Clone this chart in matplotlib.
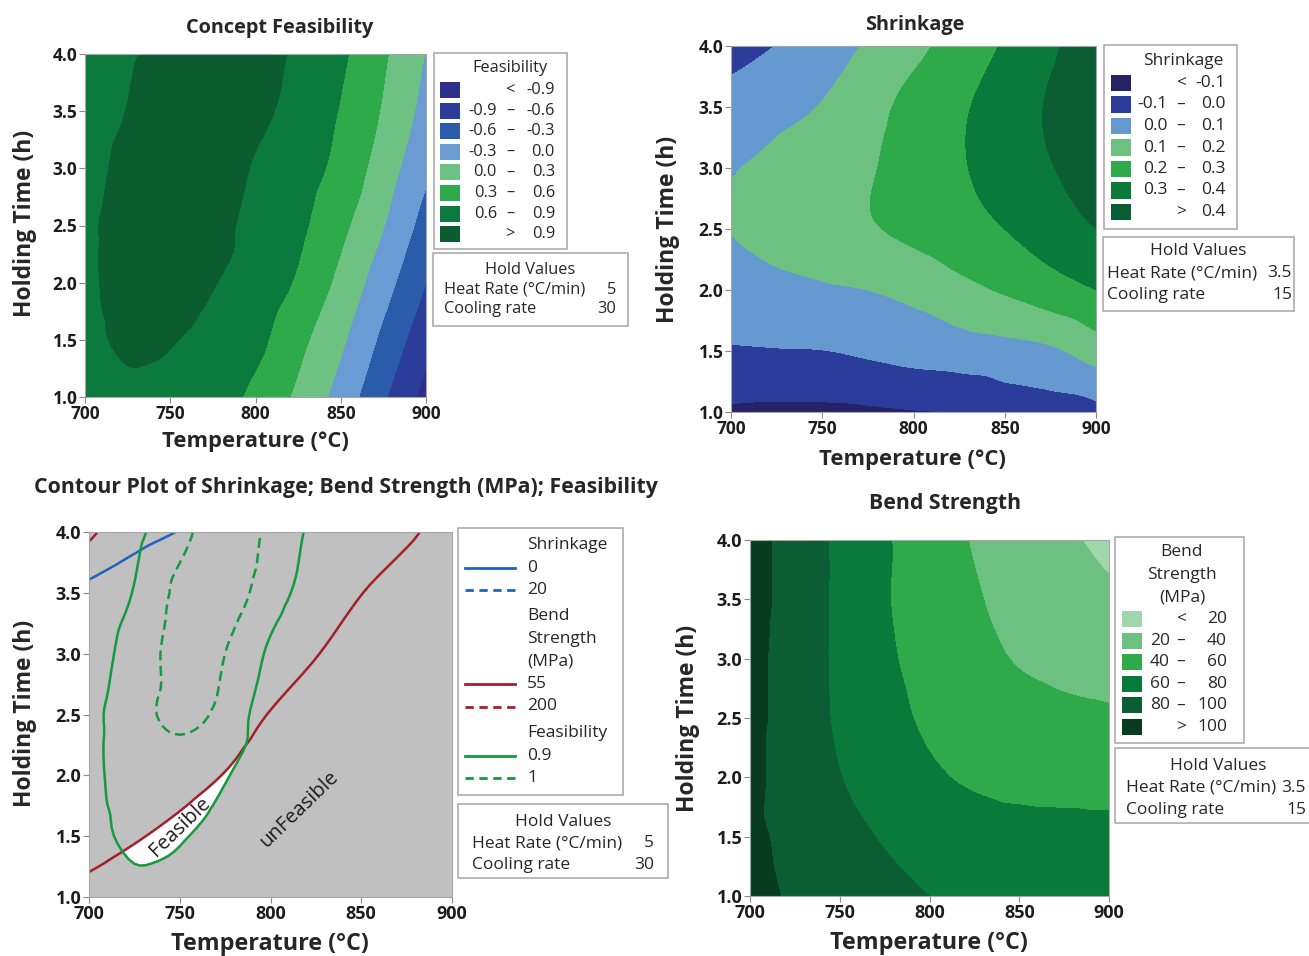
import numpy as np
import matplotlib
matplotlib.use("Agg")
import matplotlib.pyplot as plt
import matplotlib.tri as mtri
from matplotlib.patches import Rectangle
from matplotlib.lines import Line2D

plt.rcParams["font.family"] = ["Open Sans", "DejaVu Sans"]

W, H = 1309, 956

# ---- values ----
temperature = [700, 725, 750, 775, 800, 825, 850, 875, 900]     # degC, grid columns
holding_time = [4.0, 3.5, 3.0, 2.5, 2.0, 1.5, 1.0]               # h, grid rows (top -> bottom)

# concept feasibility, heat rate 5, cooling rate 30 (also used in the overlay)
feasibility = [
    [0.79, 0.875, 0.97, 1.05, 0.98, 0.86, 0.65, 0.34, -0.01],
    [0.825, 0.905, 1.02, 1.04, 0.95, 0.82, 0.58, 0.27, -0.10],
    [0.85, 0.94, 1.03, 1.00, 0.88, 0.73, 0.51, 0.15, -0.24],
    [0.865, 0.97, 1.015, 0.975, 0.82, 0.66, 0.37, 0.01, -0.42],
    [0.87, 0.95, 0.96, 0.91, 0.78, 0.56, 0.22, -0.18, -0.60],
    [0.85, 0.93, 0.91, 0.84, 0.68, 0.38, 0.05, -0.37, -0.80],
    [0.80, 0.86, 0.85, 0.75, 0.52, 0.24, -0.12, -0.56, -1.00],
]

# shrinkage, heat rate 3.5, cooling rate 15
shrinkage = [
    [-0.05, 0.002, 0.055, 0.11, 0.175, 0.24, 0.31, 0.385, 0.46],
    [0.045, 0.075, 0.105, 0.165, 0.23, 0.285, 0.345, 0.41, 0.47],
    [0.095, 0.118, 0.155, 0.19, 0.24, 0.29, 0.34, 0.395, 0.44],
    [0.102, 0.13, 0.16, 0.19, 0.225, 0.265, 0.30, 0.35, 0.40],
    [0.06, 0.075, 0.088, 0.10, 0.125, 0.17, 0.21, 0.255, 0.30],
    [-0.01, -0.005, -0.002, 0.015, 0.035, 0.05, 0.065, 0.085, 0.145],
    [-0.115, -0.12, -0.12, -0.115, -0.105, -0.095, -0.06, -0.045, -0.03],
]

# bend strength (MPa), heat rate 3.5, cooling rate 15
bend_strength = [
    [106, 93, 76, 62, 50, 38.5, 29, 23, 15],
    [106, 93, 76, 61.5, 52, 42, 33, 27, 23],
    [105, 92, 76, 63, 54, 46, 38.5, 33, 29],
    [105, 92, 77, 66, 57, 51, 47.5, 45, 43],
    [105, 91, 80.5, 71, 63, 57, 53, 51, 50],
    [104, 95, 86, 78.5, 73, 70, 68.5, 68, 68],
    [107, 97, 90, 85, 80, 77, 75, 75, 78],
]

# overlay panel (heat rate 5, cooling rate 30): shrinkage and bend strength
shrinkage_overlay = [
    [-0.06, -0.03, 0.003, 0.04, 0.08, 0.12, 0.16, 0.20, 0.24],
    [0.015, 0.05, 0.09, 0.12, 0.16, 0.20, 0.24, 0.28, 0.32],
    [0.08, 0.10, 0.13, 0.16, 0.19, 0.23, 0.27, 0.30, 0.34],
    [0.10, 0.12, 0.14, 0.17, 0.20, 0.24, 0.27, 0.31, 0.35],
    [0.08, 0.10, 0.12, 0.15, 0.18, 0.22, 0.26, 0.30, 0.33],
    [0.04, 0.05, 0.07, 0.10, 0.13, 0.17, 0.20, 0.24, 0.28],
    [0.01, 0.02, 0.03, 0.05, 0.08, 0.11, 0.15, 0.19, 0.23],
]
bend_overlay = [
    [60, 35, 20, 18, 22, 31, 42, 51, 66],
    [30, 20, 16, 20, 30, 42, 54.5, 67, 80],
    [16, 16, 20, 29, 42, 54, 67, 79, 92],
    [14, 22, 31, 43, 56, 68, 81, 93, 106],
    [22, 33, 44, 56, 69, 81, 94, 106, 119],
    [40, 52, 64, 77, 89, 102, 114, 127, 139],
    [66, 78, 90, 103, 115, 128, 140, 153, 165],
]

feas_levels = [-0.9, -0.6, -0.3, 0.0, 0.3, 0.6, 0.9]
shrink_levels = [-0.1, 0.0, 0.1, 0.2, 0.3, 0.4]
bend_levels = [20, 40, 60, 80, 100]

feas_colors = ["#2d2f8e", "#2b3c9a", "#2b5ca9", "#6a9bd3",
               "#6dc182", "#2faa4b", "#0b7a3c", "#0b5d31"]
shrink_colors = ["#252365", "#2b3c9b", "#6699d0", "#6cc080",
                 "#2eaa4a", "#0a7a3a", "#0b5e33"]
bend_colors = ["#a0d6ab", "#6cc080", "#2eaa4a", "#0a7a3a", "#0b5e33", "#073d1e"]

# overlaid contour limits (low, high)
shrink_limits = [0, 20]
bend_limits = [55, 200]
feas_limits = [0.9, 1]

hold_heat = ["5", "3.5", "5", "3.5"]
hold_cool = ["30", "15", "30", "15"]

TXT = "#262626"
EDGE = "#a6a6a6"

# grid as a triangulation (in grid-step units), refined by matplotlib for smooth contours
gu, gv = np.meshgrid(np.arange(len(temperature)), np.arange(len(holding_time)))
base_tri = mtri.Triangulation(gu.ravel().astype(float), gv.ravel().astype(float))
refiner = mtri.UniformTriRefiner(base_tri)
t_arr = np.array(temperature, dtype=float)
h_arr = np.array(holding_time, dtype=float)


def surface(Z):
    z = np.asarray(Z, dtype=float).ravel()
    interp = mtri.CubicTriInterpolator(base_tri, z, kind="geom")
    tri_r, z_r = refiner.refine_field(z, triinterpolator=interp, subdiv=3)
    x = np.interp(tri_r.x, np.arange(len(t_arr)), t_arr)
    y = np.interp(tri_r.y, np.arange(len(h_arr)), h_arr)
    return mtri.Triangulation(x, y, tri_r.triangles), z_r


def fx(x):
    return x / W


def fy(y):
    return 1 - y / H


def txt(fig, x, y, s, size, ha="left", weight="normal", **kw):
    fig.text(fx(x), fy(y), s, ha=ha, va="center", fontsize=size,
             fontweight=weight, color=TXT, **kw)


def box(fig, x0, y0, x1, y1):
    fig.add_artist(Rectangle((fx(x0), fy(y1)), (x1 - x0) / W, (y1 - y0) / H,
                             transform=fig.transFigure, fill=False,
                             ec=EDGE, lw=1.1))


def add_ax(fig, x0, y0, x1, y1, tick_fs):
    ax = fig.add_axes([fx(x0), fy(y1), (x1 - x0) / W, (y1 - y0) / H])
    ax.set_xlim(700, 900)
    ax.set_ylim(1.0, 4.0)
    ax.set_xticks([700, 750, 800, 850, 900])
    ax.set_yticks([1.0, 1.5, 2.0, 2.5, 3.0, 3.5, 4.0])
    ax.yaxis.set_major_formatter("{x:.1f}")
    ax.tick_params(length=4, width=0.8, color="#8a8a8a", labelsize=tick_fs,
                   labelcolor="#1c1c1c", pad=1.5)
    plt.setp(ax.get_xticklabels() + ax.get_yticklabels(), fontweight="bold")
    for sp in ax.spines.values():
        sp.set_color(EDGE)
        sp.set_linewidth(0.8)
    return ax


def labels(fig, title, tpos, xpos, ypos, tsize, xsize):
    txt(fig, tpos[0], tpos[1], title, tsize, ha="center", weight="bold")
    txt(fig, xpos[0], xpos[1], "Temperature (°C)", xsize, ha="center", weight="bold")
    txt(fig, ypos[0], ypos[1], "Holding Time (h)", 16.5, ha="center",
        weight="bold", rotation=90)


def fill_legend(fig, levels, colors, fmt, x_sw, x_left, x_dash, x_right, y0, dy, fs):
    n = len(colors)
    for i in range(n):
        y = y0 + i * dy
        fig.add_artist(Rectangle((fx(x_sw), fy(y + 8)), 20 / W, 16 / H,
                                 transform=fig.transFigure, fc=colors[i], ec="none"))
        if i == 0:
            txt(fig, x_dash, y, "<", fs, ha="center")
            txt(fig, x_right, y, fmt.format(levels[0]), fs, ha="right")
        elif i == n - 1:
            txt(fig, x_dash, y, ">", fs, ha="center")
            txt(fig, x_right, y, fmt.format(levels[-1]), fs, ha="right")
        else:
            txt(fig, x_left, y, fmt.format(levels[i - 1]), fs, ha="right")
            txt(fig, x_dash, y, "–", fs, ha="center")
            txt(fig, x_right, y, fmt.format(levels[i]), fs, ha="right")


def hold_box(fig, rect, xc, xl, xr, ys, heat, cool, fs):
    box(fig, *rect)
    txt(fig, xc, ys[0], "Hold Values", fs, ha="center")
    txt(fig, xl, ys[1], "Heat Rate (°C/min)", fs)
    txt(fig, xr, ys[1], heat, fs, ha="right")
    txt(fig, xl, ys[2], "Cooling rate", fs)
    txt(fig, xr, ys[2], cool, fs, ha="right")


def bounds(levels):
    return [-1e6] + list(levels) + [1e6]


fig = plt.figure(figsize=(W / 100, H / 100), dpi=100)

# ---- top left: concept feasibility ----
fs1 = 11.8
ax1 = add_ax(fig, 85, 54, 426, 397, 12.5)
ax1.tricontourf(*surface(feasibility), levels=bounds(feas_levels), colors=feas_colors)
labels(fig, "Concept Feasibility", (280, 28), (255, 441), (25, 223), 14.3, 15.8)
box(fig, 434, 53, 567, 249)
txt(fig, 510, 68, "Feasibility", fs1, ha="center")
fill_legend(fig, feas_levels, feas_colors, "{:.1f}", 440, 497, 510, 555, 90, 20.6, fs1)
hold_box(fig, (433, 253, 628, 326), 530, 444, 616, (270, 290, 309),
         hold_heat[0], hold_cool[0], fs1)

# ---- top right: shrinkage ----
fs2 = 12.5
ax2 = add_ax(fig, 731, 46, 1096, 412, 12.5)
ax2.tricontourf(*surface(shrinkage), levels=bounds(shrink_levels), colors=shrink_colors)
labels(fig, "Shrinkage", (915, 25), (912, 460), (668, 229), 14.3, 15.8)
box(fig, 1104, 45, 1237, 229)
txt(fig, 1183, 61, "Shrinkage", fs2, ha="center")
fill_legend(fig, shrink_levels, shrink_colors, "{:.1f}", 1111, 1168, 1181, 1226, 83, 21.5, fs2)
hold_box(fig, (1103, 237, 1294, 311), 1198, 1107, 1292, (251, 273, 295),
         hold_heat[1], hold_cool[1], fs2)

# ---- bottom left: overlaid contour plot ----
fs3 = 12.5
ax3 = add_ax(fig, 89, 532, 452, 897, 13)
ax3.set_facecolor("white")
gray = "#c0c0c0"
s_feas = surface(feasibility)
s_bend = surface(bend_overlay)
s_shr = surface(shrinkage_overlay)
for surf, (lo, hi) in [(s_feas, feas_limits), (s_bend, bend_limits), (s_shr, shrink_limits)]:
    ax3.tricontourf(*surf, levels=[-1e6, lo], colors=[gray])
    ax3.tricontourf(*surf, levels=[hi, 1e6], colors=[gray])
blue, red, green = "#1f63c0", "#a31f2b", "#149a3f"
dash = (0, (4, 2.2))
# the upper limits (shrinkage 20, bend strength 200) never fall inside the region
ax3.tricontour(*s_shr, levels=[shrink_limits[0]], colors=blue, linewidths=1.8)
ax3.tricontour(*s_bend, levels=[bend_limits[0]], colors=red, linewidths=1.8)
ax3.tricontour(*s_feas, levels=[feas_limits[0]], colors=green, linewidths=1.8)
ax3.tricontour(*s_feas, levels=[feas_limits[1]], colors=green, linewidths=1.8,
               linestyles=[dash])
ax3.text(750, 1.58, "Feasible", rotation=44, ha="center", va="center",
         fontsize=14.5, color="#1c1c1c")
ax3.text(816, 1.72, "unFeasible", rotation=44, ha="center", va="center",
         fontsize=14.5, color="#1c1c1c")
labels(fig, "Contour Plot of Shrinkage; Bend Strength (MPa); Feasibility",
       (346, 488), (270, 944), (25, 713), 15.3, 16.8)

box(fig, 458, 528, 623, 795)
groups = [(["Shrinkage"], blue, shrink_limits),
          (["Bend", "Strength", "(MPa)"], red, bend_limits),
          (["Feasibility"], green, feas_limits)]
y = 545
for gi, (head, col, lims) in enumerate(groups):
    if gi:
        y += 4
    for line in head:
        txt(fig, 527, y, line, fs3)
        y += 22.5
    for li, v in enumerate(lims):
        fig.add_artist(Line2D([fx(465), fx(515)], [fy(y), fy(y)], transform=fig.transFigure,
                              color=col, lw=2, ls="-" if li == 0 else (0, (3, 2))))
        txt(fig, 527, y, f"{v:g}", fs3)
        y += 22.5
hold_box(fig, (458, 804, 668, 878), 563, 472, 654, (822, 843, 865),
         hold_heat[2], hold_cool[2], fs3)

# ---- bottom right: bend strength ----
fs4 = 12.5
ax4 = add_ax(fig, 750, 540, 1109, 896, 13)
ax4.tricontourf(*surface(bend_strength), levels=bounds(bend_levels), colors=bend_colors)
labels(fig, "Bend Strength", (945, 503), (929, 943), (688, 718), 15.3, 16.8)
box(fig, 1115, 537, 1244, 743)
for line, yy in zip(["Bend", "Strength", "(MPa)"], [552, 575, 597]):
    txt(fig, 1182, yy, line, fs4, ha="center")
fill_legend(fig, bend_levels, bend_colors, "{:d}", 1122, 1170, 1181, 1227, 619, 21.6, fs4)
hold_box(fig, (1115, 748, 1340, 823), 1218, 1126, 1306, (766, 788, 810),
         hold_heat[3], hold_cool[3], fs4)

fig.savefig("out.png", dpi=100, facecolor="white")
